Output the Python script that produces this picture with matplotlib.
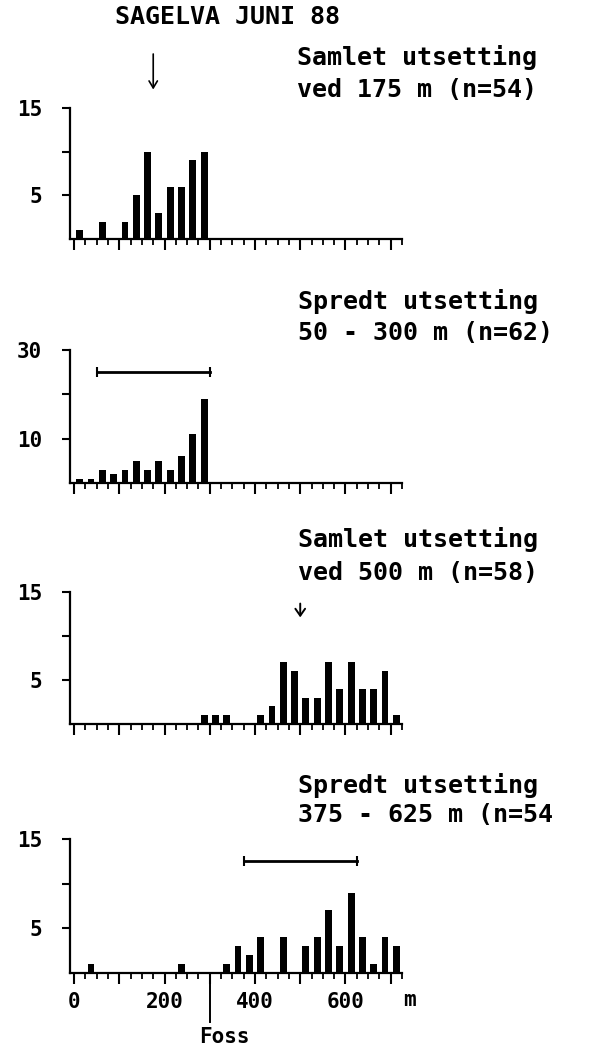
import matplotlib
matplotlib.use('Agg')
import matplotlib.pyplot as plt

# data: bin start (m, 25 m bins) and number of fish
p1_bins = [0, 50, 100, 125, 150, 175, 200, 225, 250, 275]
p1_counts = [1, 2, 2, 5, 10, 3, 6, 6, 9, 10]
p2_bins = [0, 25, 50, 75, 100, 125, 150, 175, 200, 225, 250, 275]
p2_counts = [1, 1, 3, 2, 3, 5, 3, 5, 3, 6, 11, 19]
p3_bins = [275, 300, 325, 400, 425, 450, 475, 500, 525, 550, 575, 600, 625, 650, 675, 700]
p3_counts = [1, 1, 1, 1, 2, 7, 6, 3, 3, 7, 4, 7, 4, 4, 6, 1]
p4_bins = [25, 225, 325, 350, 375, 400, 450, 500, 525, 550, 575, 600, 625, 650, 675, 700]
p4_counts = [1, 1, 1, 3, 2, 4, 4, 3, 4, 7, 3, 9, 4, 1, 4, 3]

ymax = [15, 30, 15, 15]
ytick_lists = [[5, 10, 15], [10, 20, 30], [5, 10, 15], [5, 10, 15]]
ylabel_lists = [['5', '', '15'], ['10', '', '30'], ['5', '', '15'], ['5', '', '15']]
xtick_major = [0, 100, 200, 300, 400, 500, 600, 700]
xtick_labels = ['0', '', '200', '', '400', '', '600', '']

FONT = dict(family='DejaVu Sans Mono', weight='bold')
W, H = 602, 1047

fig = plt.figure(figsize=(W/100, H/100), dpi=100)

# panel boxes in pixels: (top, baseline)
boxes = [(108, 239), (350, 483), (592, 724), (839, 973)]
bins = [p1_bins, p2_bins, p3_bins, p4_bins]
counts = [p1_counts, p2_counts, p3_counts, p4_counts]
axes = []
for k, (top, base) in enumerate(boxes):
    ax = fig.add_axes([70/W, 1 - base/H, (402-70)/W, (base-top)/H])
    ax.bar([b + 12.5 for b in bins[k]], counts[k], width=15, color='black')
    ax.set_xlim(-9, 725)
    ax.set_ylim(0, ymax[k])
    for s in ['top', 'right']:
        ax.spines[s].set_visible(False)
    for s in ['left', 'bottom']:
        ax.spines[s].set_linewidth(1.6)
    ax.set_yticks(ytick_lists[k])
    ax.set_yticklabels(ylabel_lists[k], fontsize=15, **FONT)
    ax.set_xticks(xtick_major)
    ax.set_xticks(list(range(25, 726, 25)), minor=True)
    ax.tick_params(axis='y', length=6, width=1.5, pad=14)
    ax.tick_params(axis='x', which='major', length=8, width=1.5)
    ax.tick_params(axis='x', which='minor', length=4, width=1.3)
    if k == 3:
        ax.set_xticklabels(xtick_labels, fontsize=15, **FONT)
        ax.tick_params(axis='x', which='major', pad=6)
    else:
        ax.set_xticklabels([])
    axes.append(ax)

ax1, ax2, ax3, ax4 = axes

# release point arrows
ax1.annotate('', xy=(175, 16.8), xytext=(175, 21.5), annotation_clip=False,
             arrowprops=dict(arrowstyle='->,head_length=0.5,head_width=0.3', lw=1.2, color='black'))
ax3.annotate('', xy=(500, 11.8), xytext=(500, 14.0), annotation_clip=False,
             arrowprops=dict(arrowstyle='->,head_length=0.5,head_width=0.35', lw=1.4, color='black'))

# release stretches
ax2.plot([50, 300], [25, 25], color='black', lw=2, marker='|', ms=7, mew=1.5)
ax4.plot([375, 625], [12.5, 12.5], color='black', lw=2, marker='|', ms=7, mew=1.5)

# waterfall marker
ax4.plot([300, 300], [0, -5.5], color='black', lw=1.4, clip_on=False)

def ftext(x, y, s, ha='left', size=18):
    fig.text(x/W, 1 - y/H, s, ha=ha, va='center', fontsize=size, **FONT)

ftext(115, 17, 'SAGELVA JUNI 88')
ftext(297, 58, 'Samlet utsetting')
ftext(297, 90, 'ved 175 m (n=54)')
ftext(298, 302, 'Spredt utsetting')
ftext(298, 333, '50 - 300 m (n=62)')
ftext(298, 540, 'Samlet utsetting')
ftext(298, 573, 'ved 500 m (n=58)')
ftext(298, 785, 'Spredt utsetting')
ftext(298, 815, '375 - 625 m (n=54')
ftext(224, 1037, 'Foss', ha='center', size=15)
ftext(409, 1000, 'm', ha='center', size=15)

fig.savefig('out.png', dpi=100, facecolor='white')
